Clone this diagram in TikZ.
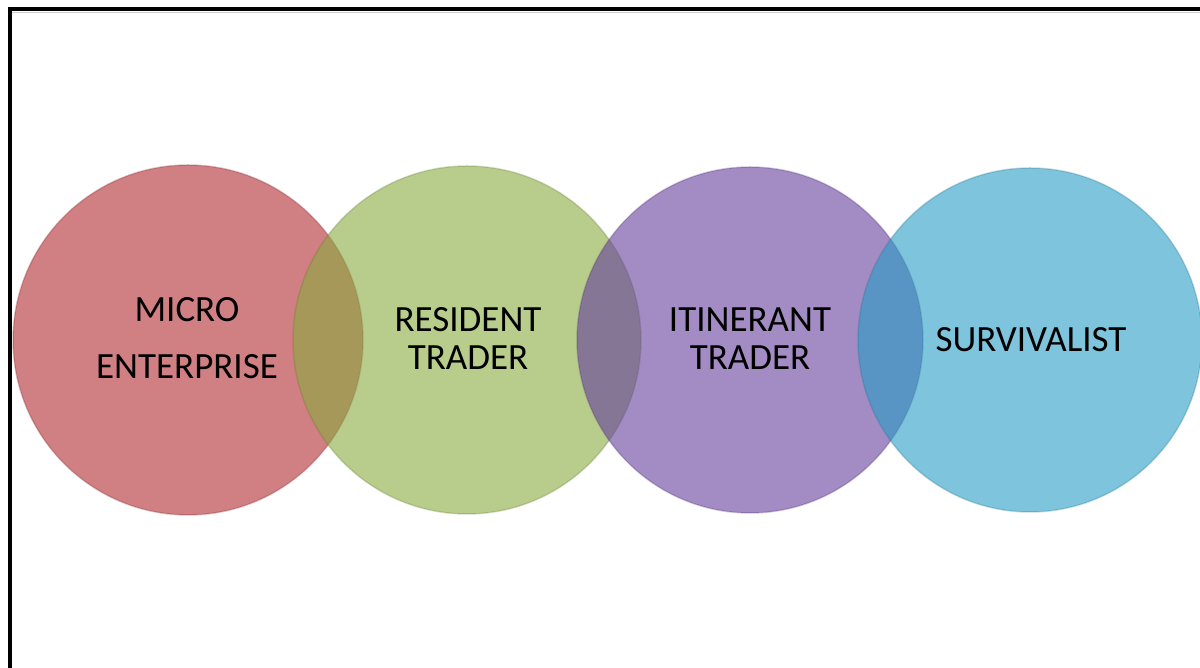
\documentclass[tikz,border=0pt]{standalone}
\usepackage{fontspec}
\setmainfont{Carlito}
\definecolor{cred}{RGB}{177,43,48}
\definecolor{cgreen}{RGB}{137,170,63}
\definecolor{cpurple}{RGB}{102,62,158}
\definecolor{cblue}{RGB}{40,157,197}
\begin{document}
\begin{tikzpicture}[x=1pt,y=1pt,
  bubble/.style={circle, inner sep=0pt, fill opacity=0.6, draw opacity=0.25, line width=1.5pt},
  lbl/.style={align=center, font=\fontsize{37}{38}\selectfont, text=black}]
\useasboundingbox (0,0) rectangle (1200,668);
\fill[white] (0,0) rectangle (1200,668);
% frame
\draw[gray!40, line width=1.5pt] (12,655.5) -- (1200,655.5);
\draw[black, line width=4pt] (1200,658.5) -- (10,658.5) -- (10,0);
% circles
\node[bubble, minimum size=350pt, fill=cred, draw=cred!70!black] (red) at (188,328) {};
\node[bubble, minimum size=348pt, fill=cgreen, draw=cgreen!70!black] (green) at (467,328) {};
\node[bubble, minimum size=346pt, fill=cpurple, draw=cpurple!70!black] (purple) at (750,328) {};
\node[bubble, minimum size=344pt, fill=cblue, draw=cblue!70!black] (blue) at (1030,328) {};
% labels
\node[lbl, font=\fontsize{37}{57}\selectfont] (t1) at (187,329.5) {MICRO\\ENTERPRISE};
\node[lbl] (t2) at (468,329) {RESIDENT\\TRADER};
\node[lbl] (t3) at (750,329) {ITINERANT\\TRADER};
\node[lbl] (t4) at (1031,328) {SURVIVALIST};
\end{tikzpicture}
\end{document}
